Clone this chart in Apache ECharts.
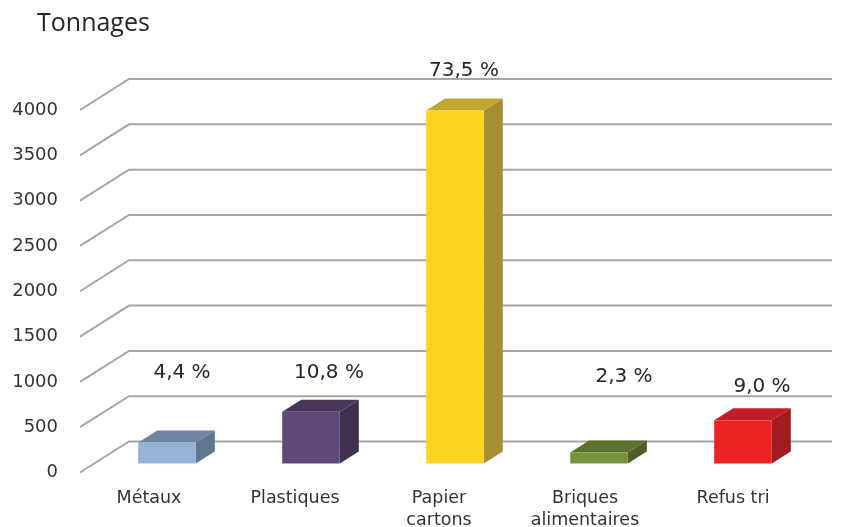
<!DOCTYPE html>
<html><head><meta charset="utf-8">
<style>html,body{margin:0;padding:0;background:#fff}#c{width:846px;height:527px}</style>
<script src="https://cdn.jsdelivr.net/npm/echarts@6/dist/echarts.min.js"></script>
</head><body><div id="c"></div>
<script>
const categories = ['Métaux','Plastiques','Papier\ncartons','Briques\nalimentaires','Refus tri'];
const tonnages = [233, 572, 3896, 122, 477];
const percentLabels = ['4,4 %','10,8 %','73,5 %','2,3 %','9,0 %'];
const labelLevels = [1100, 1100, 4436, 1060, 950];
const labelShifts = [33, 36, 27, 43, 37];
const categoryLabelPads = [0, 4, 4, 8, 16];
const wallTicks = [0,500,1000,1500,2000,2500,3000,3500,4000];
const frontColors = ['#95B3D7','#5F497A','#FCD523','#77933C','#EE2224'];
const topColors = ['#7085A3','#483759','#C2A72F','#5C722F','#BF1E24'];
const sideColors = ['#5F7790','#3F3050','#A68F33','#4C5F27','#A01C20'];

const wallDX = 49, wallDY = -31, wallStart = 3, wallEnd = 832;
const barDX = 19, barDY = -12, barShiftX = 18, barShiftY = -9;

const chart = echarts.init(document.getElementById('c'), null, {renderer:'canvas'});
chart.setOption({
  animation:false,
  backgroundColor:'#fff',
  title:{text:'Tonnages',left:32,top:6,textStyle:{fontFamily:'Open Sans',fontSize:25,fontWeight:'normal',color:'#262626'}},
  grid:{left:77,top:110,width:720,height:362.5,outerBoundsMode:'none'},
  xAxis:{type:'category',
    data:categories.map((name,i)=>({value:name,textStyle:{padding:[0,0,0,categoryLabelPads[i]]}})),
    axisLine:{show:false},axisTick:{show:false},
    axisLabel:{interval:0,margin:15,fontFamily:'DejaVu Sans',fontSize:17.5,lineHeight:22,color:'#333',verticalAlign:'top',hideOverlap:false}},
  yAxis:{type:'value',min:0,max:4000,interval:500,splitLine:{show:false},axisLine:{show:false},axisTick:{show:false},
    axisLabel:{margin:19,fontFamily:'DejaVu Sans',fontSize:18,color:'#333',formatter:v=>String(v)}},
  series:[
    {type:'custom',z:1,silent:true,data:wallTicks.map(v=>[0,v]),clip:false,
     renderItem(params,api){
       const p=api.coord([0,api.value(1)]);
       const x0=params.coordSys.x+wallStart, y=p[1];
       return {type:'polyline',shape:{points:[[x0,y],[x0+wallDX,y+wallDY],[wallEnd,y+wallDY]]},
         style:{fill:null,stroke:'#A6A6A6',lineWidth:2}};
     }},
    {type:'custom',z:2,silent:true,clip:false,data:tonnages.map((v,i)=>[i,v]),
     renderItem(params,api){
       const i=api.value(0);
       const c=api.coord([i,api.value(1)]), b=api.coord([i,0]);
       const w=api.size([1,0])[0]*0.4;
       const x0=c[0]+barShiftX-w/2, x1=x0+w, t=c[1]+barShiftY, f=b[1]+barShiftY;
       return {type:'group',children:[
         {type:'polygon',shape:{points:[[x0,t],[x1,t],[x1+barDX,t+barDY],[x0+barDX,t+barDY]]},style:{fill:topColors[i]}},
         {type:'polygon',shape:{points:[[x1,t],[x1+barDX,t+barDY],[x1+barDX,f+barDY],[x1,f]]},style:{fill:sideColors[i]}},
         {type:'rect',shape:{x:x0,y:t,width:w,height:f-t},style:{fill:frontColors[i]}}
       ]};
     }},
    {type:'custom',z:3,silent:true,clip:false,data:labelLevels.map((v,i)=>[i,v]),
     renderItem(params,api){
       const i=api.value(0), p=api.coord([i,api.value(1)]);
       return {type:'text',style:{x:p[0]+labelShifts[i],y:p[1],text:percentLabels[i],align:'center',verticalAlign:'middle',
         font:'20px "DejaVu Sans"',fill:'#262626'}};
     }}
  ]
});
</script></body></html>
